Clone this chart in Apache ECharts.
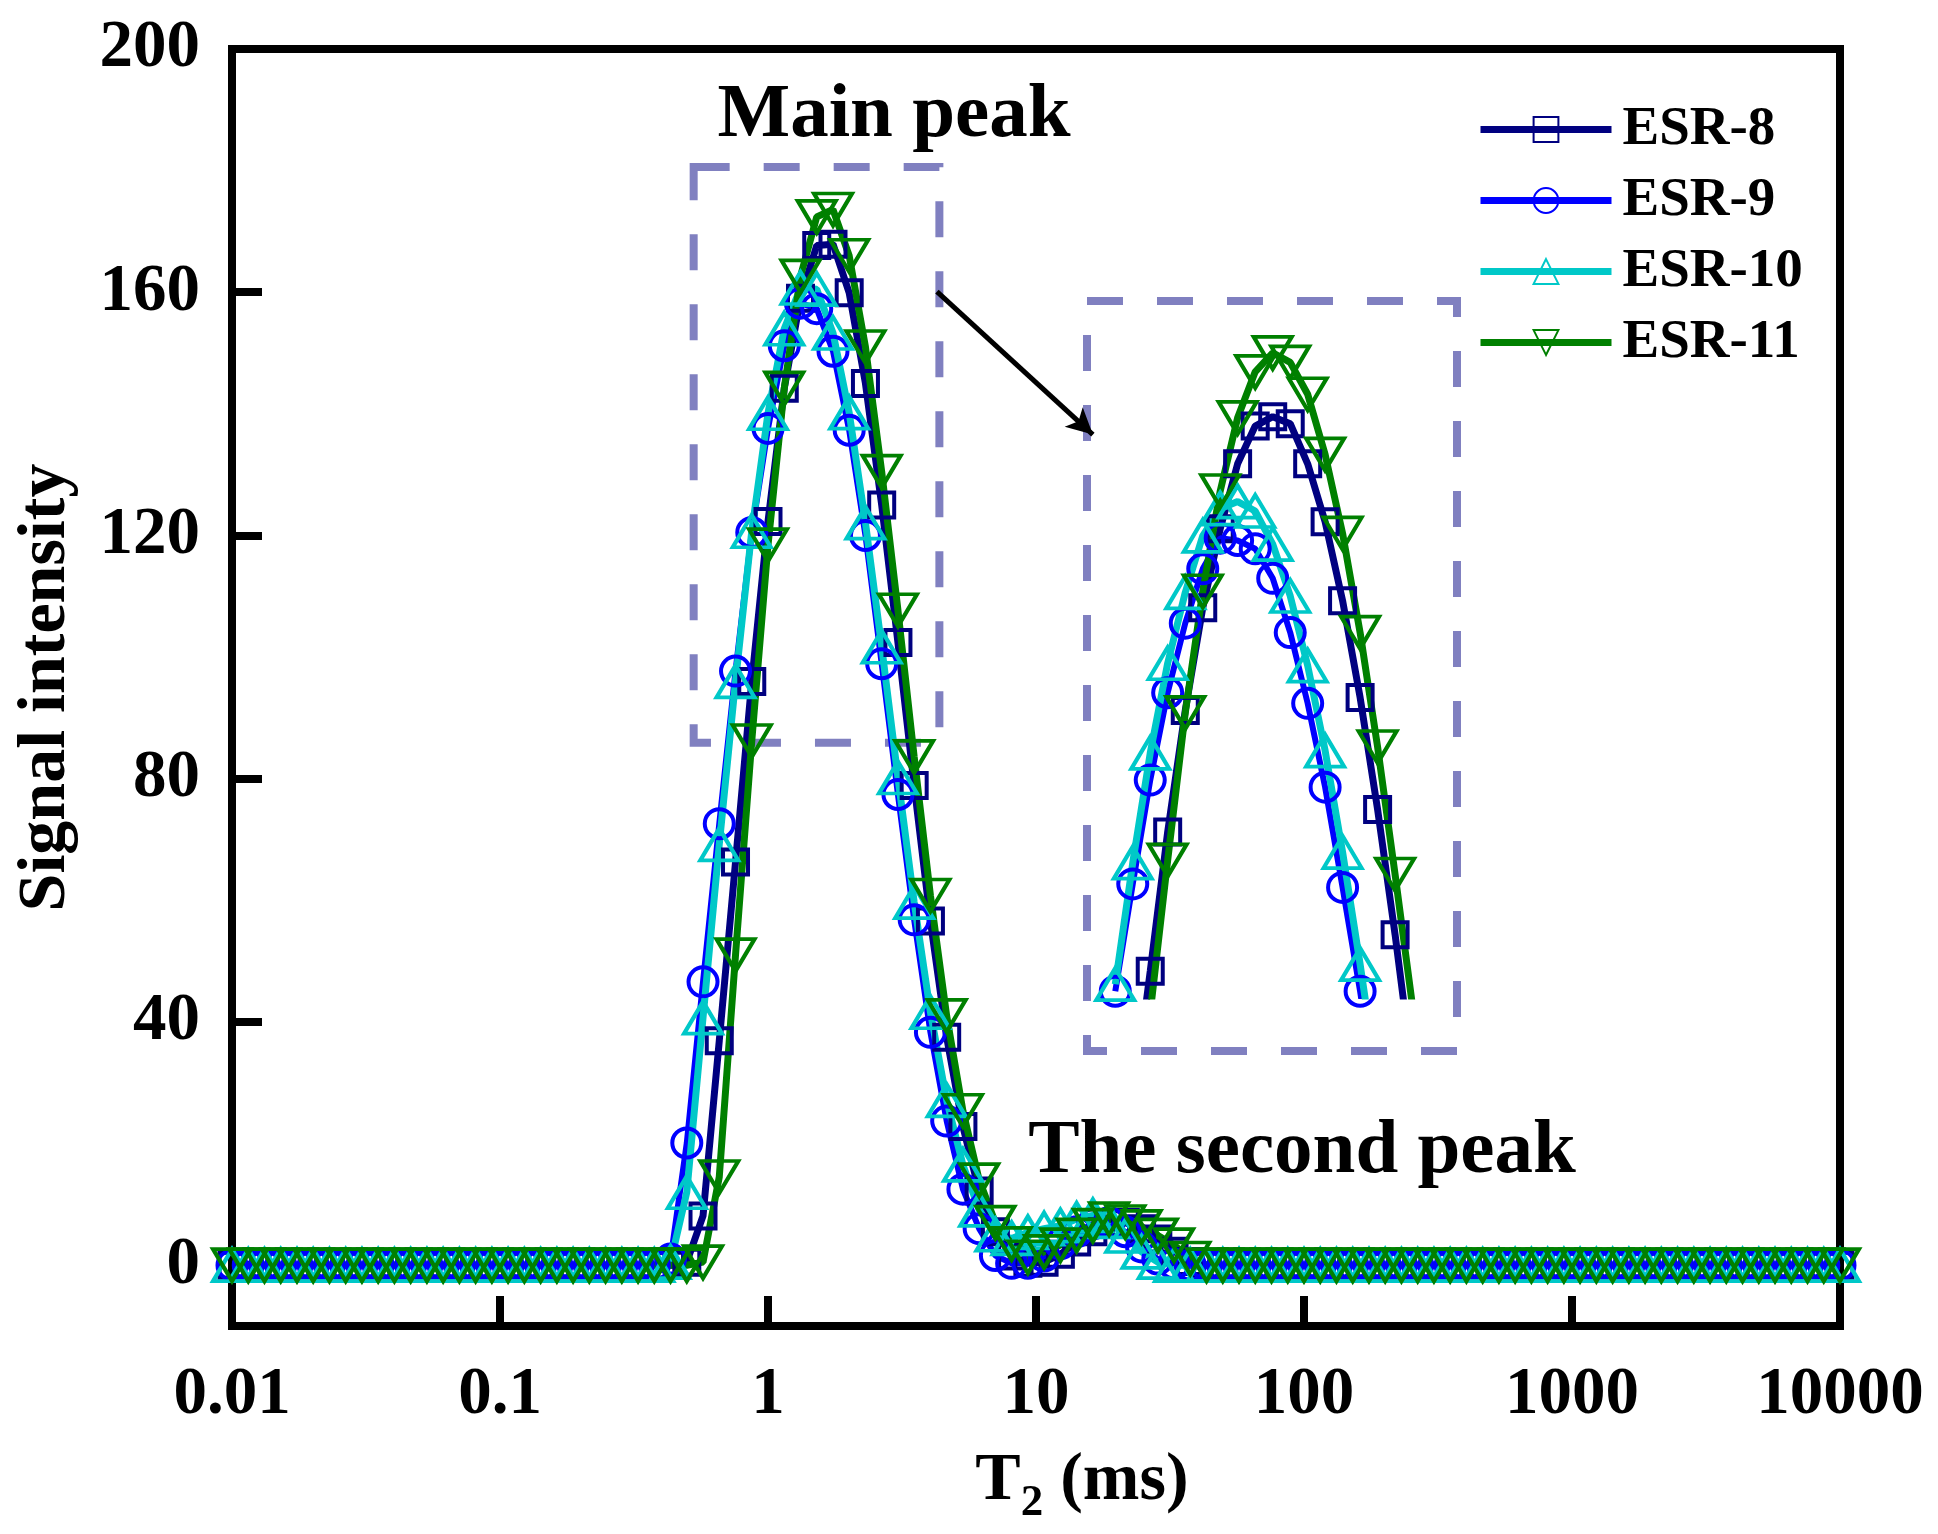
<!DOCTYPE html>
<html>
<head>
<meta charset="utf-8">
<script src="https://cdn.jsdelivr.net/npm/echarts@6.0.0/dist/echarts.min.js"></script>
<style>
  html, body { margin: 0; padding: 0; background: #fff; }
  #main { width: 1938px; height: 1534px; }
</style>
</head>
<body>
<div id="main"></div>
<script>
// T2 sampling points (ms), 100 points from 0.01 to 10000
var t2 = [
  0.01, 0.0115, 0.01322, 0.0152, 0.01748, 0.02009, 0.0231, 0.02656, 0.03054, 0.03511,
  0.04037, 0.04642, 0.05337, 0.06136, 0.07055, 0.08111, 0.09326, 0.1072, 0.1233, 0.1418,
  0.163, 0.1874, 0.2154, 0.2477, 0.2848, 0.3275, 0.3765, 0.4329, 0.4977, 0.5722,
  0.6579, 0.7565, 0.8698, 1, 1.15, 1.322, 1.52, 1.748, 2.009, 2.31,
  2.656, 3.054, 3.511, 4.037, 4.642, 5.337, 6.136, 7.055, 8.111, 9.326,
  10.72, 12.33, 14.18, 16.3, 18.74, 21.54, 24.77, 28.48, 32.75, 37.65,
  43.29, 49.77, 57.22, 65.79, 75.65, 86.98, 100, 115, 132.2, 152,
  174.8, 200.9, 231, 265.6, 305.4, 351.1, 403.7, 464.2, 533.7, 613.6,
  705.5, 811.1, 932.6, 1072, 1233, 1418, 1630, 1874, 2154, 2477,
  2848, 3275, 3765, 4329, 4977, 5722, 6579, 7565, 8698, 10000
];

var esr8 = [
  0, 0, 0, 0, 0, 0, 0, 0, 0, 0,
  0, 0, 0, 0, 0, 0, 0, 0, 0, 0,
  0, 0, 0, 0, 0, 0, 0, 0, 0.5, 8.1,
  36.9, 66.3, 96.0, 122.3, 144.2, 159.0, 167.7, 167.9, 159.9, 145.0,
  125.0, 102.4, 78.9, 56.6, 37.5, 22.8, 12.2, 5.5, 1.5, 0.3,
  0.5, 1.8, 3.8, 5.5, 6.8, 7.0, 6.0, 4.3, 2.3, 0.6,
  0, 0, 0, 0, 0, 0, 0, 0, 0, 0,
  0, 0, 0, 0, 0, 0, 0, 0, 0, 0,
  0, 0, 0, 0, 0, 0, 0, 0, 0, 0,
  0, 0, 0, 0, 0, 0, 0, 0, 0, 0
];

var esr9 = [
  0, 0, 0, 0, 0, 0, 0, 0, 0, 0,
  0, 0, 0, 0, 0, 0, 0, 0, 0, 0,
  0, 0, 0, 0, 0, 0, 0, 1.0, 20.1, 46.6,
  72.6, 97.7, 120.5, 137.6, 151.2, 158.2, 157.3, 150.3, 137.3, 120.0,
  98.9, 77.4, 56.8, 38.3, 23.7, 12.5, 6.0, 1.6, 0.3, 0.3,
  1.5, 3.5, 5.5, 6.8, 7.0, 5.5, 3.0, 1.0, 0.2, 0,
  0, 0, 0, 0, 0, 0, 0, 0, 0, 0,
  0, 0, 0, 0, 0, 0, 0, 0, 0, 0,
  0, 0, 0, 0, 0, 0, 0, 0, 0, 0,
  0, 0, 0, 0, 0, 0, 0, 0, 0, 0
];

var esr10 = [
  0, 0, 0, 0, 0, 0, 0, 0, 0, 0,
  0, 0, 0, 0, 0, 0, 0, 0, 0, 0,
  0, 0, 0, 0, 0, 0, 0, 0.5, 12.0, 40.7,
  69.2, 96.0, 120.7, 140.1, 154.0, 160.7, 160.5, 153.3, 140.2, 122.1,
  101.7, 80.2, 59.7, 41.6, 27.1, 16.5, 9.1, 5.0, 4.4, 5.4,
  6.0, 6.5, 7.6, 8.2, 7.2, 4.8, 2.2, 0.5, 0, 0,
  0, 0, 0, 0, 0, 0, 0, 0, 0, 0,
  0, 0, 0, 0, 0, 0, 0, 0, 0, 0,
  0, 0, 0, 0, 0, 0, 0, 0, 0, 0,
  0, 0, 0, 0, 0, 0, 0, 0, 0, 0
];

var esr11 = [
  0, 0, 0, 0, 0, 0, 0, 0, 0, 0,
  0, 0, 0, 0, 0, 0, 0, 0, 0, 0,
  0, 0, 0, 0, 0, 0, 0, 0, 0, 0.5,
  14.5, 51.0, 86.2, 118.4, 144.2, 162.6, 172.4, 173.6, 166.0, 151.0,
  130.5, 107.7, 83.6, 60.8, 41.0, 25.4, 14.0, 7.0, 3.5, 1.3,
  2.2, 3.3, 4.9, 6.5, 7.6, 7.1, 6.3, 4.9, 3.3, 1.1,
  0, 0, 0, 0, 0, 0, 0, 0, 0, 0,
  0, 0, 0, 0, 0, 0, 0, 0, 0, 0,
  0, 0, 0, 0, 0, 0, 0, 0, 0, 0,
  0, 0, 0, 0, 0, 0, 0, 0, 0, 0
];

// inset (zoom of main peak), sampled twice as densely
var insetT2 = [0.8698, 0.9326, 1, 1.072, 1.15, 1.233, 1.322, 1.417, 1.52, 1.63,
               1.748, 1.874, 2.009, 2.154, 2.31, 2.477, 2.656, 2.848];
var insetEsr8 = [96.0, 110, 121.5, 133.3, 143.6, 152.3, 159.0, 164.5, 167.7, 168.5,
                 167.9, 164.5, 159.6, 152.9, 144.7, 135.2, 124.6, 113];
var insetEsr9 = [119.8, 128.9, 137.7, 145.1, 151.0, 155.6, 158.2, 158.0, 157.3, 154.8,
                 150.2, 144.2, 137.1, 128.6, 119.8, 110, 98.9, null];
var insetEsr10 = [120.4, 130.7, 140.0, 147.6, 153.6, 158.4, 160.7, 161.3, 160.5, 157.7,
                  153.3, 147.4, 140.2, 131.6, 122.1, 112, 101.7, null];
var insetEsr11 = [86.2, 103, 118, 130.9, 143.4, 153.7, 162.2, 168.4, 172.3, 173.9,
                  173.1, 170.4, 165.3, 158.6, 150.2, 140.5, 129.7, 118.5];

var xTicks = [0.01, 0.1, 1, 10, 100, 1000, 10000];
var xTickLabels = ['0.01', '0.1', '1', '10', '100', '1000', '10000'];
var yTicks = [0, 40, 80, 120, 160, 200];

var names = ['ESR-8', 'ESR-9', 'ESR-10', 'ESR-11'];
var colors = ['#000080', '#0000ff', '#00c8c8', '#008000'];

var FONT = '"Liberation Serif", "Times New Roman", serif';

function pairs(xs, ys) {
    return xs.map(function (x, i) { return [x, ys[i]]; });
}

// marker look per series (hollow markers, line shows through)
var looks = [
    { symbol: 'rect', size: 25, rotate: 0, width: 7 },
    { symbol: 'circle', size: 29, rotate: 0, width: 6 },
    { symbol: 'triangle', size: [38, 32], rotate: 0, width: 7 },
    { symbol: 'triangle', size: [38, 32], rotate: 180, width: 7 }
];

function makeSeries(k, data, axisIdx) {
    return {
        name: names[k],
        type: 'line',
        xAxisIndex: axisIdx,
        yAxisIndex: axisIdx,
        data: data,
        symbol: looks[k].symbol,
        symbolSize: looks[k].size,
        symbolRotate: looks[k].rotate,
        showAllSymbol: true,
        clip: true,
        lineStyle: { color: colors[k], width: looks[k].width },
        itemStyle: { color: 'rgba(255,255,255,0)', borderColor: colors[k], borderWidth: 4 },
        emphasis: { disabled: true }
    };
}

var mainData = [esr8, esr9, esr10, esr11];
var insetData = [insetEsr8, insetEsr9, insetEsr10, insetEsr11];

var series = [];
for (var k = 0; k < 4; k++) {
    series.push(makeSeries(k, pairs(t2, mainData[k]), 0));
}
for (var k = 0; k < 4; k++) {
    series.push(makeSeries(k, pairs(insetT2, insetData[k]), 1));
}

// dashed box round the main peak + arrow to the inset
series[0].markArea = {
    silent: true,
    itemStyle: {
        color: 'rgba(0,0,0,0)',
        borderColor: '#8080c0',
        borderWidth: 8,
        borderType: [36, 34]
    },
    data: [[{ coord: [0.528, 180.6] }, { coord: [4.36, 85.9] }]]
};
series[0].markLine = {
    silent: true,
    symbol: ['none', 'arrow'],
    symbolSize: [20, 26],
    label: { show: false },
    lineStyle: { color: '#000', width: 5, type: 'solid' },
    data: [[{ coord: [4.27, 160.1] }, { coord: [16.3, 136.6] }]]
};

var myChart = echarts.init(document.getElementById('main'));

option = {
    animation: false,
    backgroundColor: '#fff',
    grid: [
        { left: 232, right: 98, top: 49, bottom: 208,
          show: true, borderColor: '#000', borderWidth: 8 },
        { left: 1087, top: 301, width: 370, height: 695 }
    ],
    legend: {
        orient: 'vertical',
        left: 1472,
        top: 97,
        itemWidth: 131,
        itemHeight: 31,
        itemGap: 16,
        selectedMode: false,
        data: names,
        lineStyle: { width: 7 },
        textStyle: {
            fontFamily: FONT,
            fontWeight: 'bold',
            fontSize: 55,
            color: '#000',
            padding: [0, 0, 0, 6]
        }
    },
    xAxis: [
        {
            type: 'log',
            gridIndex: 0,
            min: 0.01,
            max: 10000,
            logBase: 10,
            name: '{a|T}{b|2}{a| (ms)}',
            nameLocation: 'middle',
            nameGap: 110,
            nameTextStyle: {
                padding: [0, 0, 0, 92],
                rich: {
                    a: { fontFamily: FONT, fontWeight: 'bold', fontSize: 68, color: '#000', lineHeight: 90 },
                    b: { fontFamily: FONT, fontWeight: 'bold', fontSize: 45, color: '#000',
                         lineHeight: 44, verticalAlign: 'bottom' }
                }
            },
            axisLine: { onZero: false, lineStyle: { color: '#000', width: 8 } },
            axisTick: { inside: true, length: 30, customValues: xTicks,
                        lineStyle: { color: '#000', width: 8 } },
            axisLabel: {
                customValues: xTicks,
                margin: 36,
                fontFamily: FONT,
                fontWeight: 'bold',
                fontSize: 67,
                color: '#000',
                formatter: function (v) {
                    return xTickLabels[Math.round(Math.log10(v)) + 2];
                }
            },
            splitLine: { show: false },
            minorTick: { show: false }
        },
        {
            type: 'log',
            gridIndex: 1,
            min: 0.777,
            max: 3.40,
            show: false
        }
    ],
    yAxis: [
        {
            type: 'value',
            gridIndex: 0,
            min: -10,
            max: 200,
            name: 'Signal intensity',
            nameLocation: 'middle',
            nameGap: 152,
            nameTextStyle: { fontFamily: FONT, fontWeight: 'bold', fontSize: 68, color: '#000' },
            axisLine: { show: true, onZero: false, lineStyle: { color: '#000', width: 8 } },
            axisTick: { show: true, inside: true, length: 30, customValues: yTicks,
                        lineStyle: { color: '#000', width: 8 } },
            axisLabel: {
                customValues: yTicks,
                margin: 32,
                fontFamily: FONT,
                fontWeight: 'bold',
                fontSize: 67,
                color: '#000'
            },
            splitLine: { show: false }
        },
        {
            type: 'value',
            gridIndex: 1,
            min: 119.4,
            max: 178.3,
            show: false
        }
    ],
    graphic: [
        {
            type: 'rect',
            shape: { x: 1087, y: 301, width: 370, height: 750 },
            style: { fill: 'none', stroke: '#8080c0', lineWidth: 8, lineDash: [36, 34] },
            silent: true
        },
        {
            type: 'text',
            x: 894, y: 116,
            style: { text: 'Main peak', fill: '#000', align: 'center', verticalAlign: 'middle',
                     font: 'bold 77px ' + FONT },
            silent: true
        },
        {
            type: 'text',
            x: 1302, y: 1152,
            style: { text: 'The second peak', fill: '#000', align: 'center', verticalAlign: 'middle',
                     font: 'bold 77px ' + FONT },
            silent: true
        }
    ],
    series: series
};

myChart.setOption(option);
</script>
</body>
</html>
